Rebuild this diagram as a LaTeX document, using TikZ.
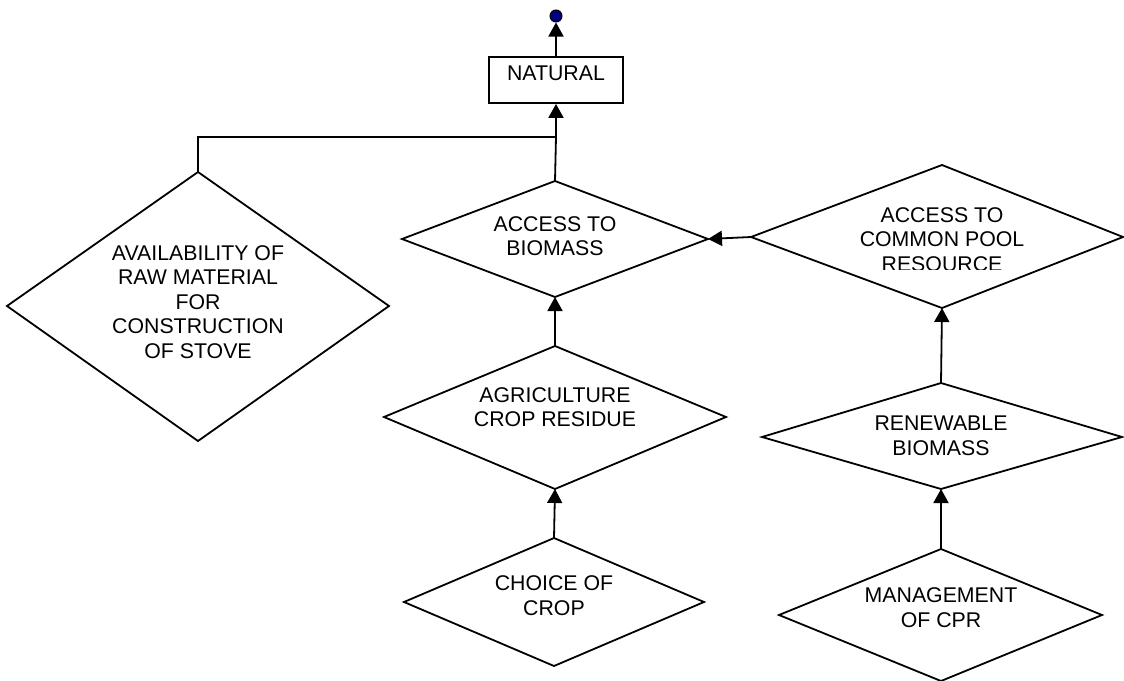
\documentclass[tikz,border=0pt]{standalone}
\usepackage{fontspec}
\setmainfont{Liberation Sans}
\usetikzlibrary{arrows.meta}
\tikzset{
  lbl/.style={align=center, inner sep=0pt, font=\fontsize{21.3}{24.6}\selectfont},
  shapeline/.style={line width=1.8pt, line join=miter},
  conn/.style={line width=1.8pt, -{Triangle[width=15pt,length=14pt]}},
  plain/.style={line width=1.8pt}
}
\begin{document}
\begin{tikzpicture}[x=1pt,y=-1pt]
\useasboundingbox (0,0) rectangle (1124,680);
% top dot
\node (dot) [circle, draw, line width=1pt, fill={rgb,255:red,0;green,0;blue,128}, minimum size=12pt, inner sep=0pt] at (556,16) {};
% NATURAL box
\node (nat) [draw, line width=1.8pt, minimum width=134pt, minimum height=46pt, inner sep=0pt] at (556,80) {};
\node (natt) [lbl] at (556,73.5) {NATURAL};
% diamonds vertices
\coordinate (av-t) at (198,172); \coordinate (av-l) at (7,306); \coordinate (av-r) at (389,306); \coordinate (av-b) at (198,441);
\coordinate (ab-t) at (555,181); \coordinate (ab-l) at (402,239); \coordinate (ab-r) at (708,239); \coordinate (ab-b) at (555,297);
\coordinate (ag-t) at (555,346); \coordinate (ag-l) at (384,417); \coordinate (ag-r) at (726,417); \coordinate (ag-b) at (555,489);
\coordinate (cc-t) at (554,538); \coordinate (cc-l) at (404,602); \coordinate (cc-r) at (704,602); \coordinate (cc-b) at (554,666);
\coordinate (cp-t) at (942,165); \coordinate (cp-l) at (751,237); \coordinate (cp-r) at (1123,237); \coordinate (cp-b) at (942,308);
\coordinate (rb-t) at (941,383); \coordinate (rb-l) at (762,437); \coordinate (rb-r) at (1122,437); \coordinate (rb-b) at (941,489);
\coordinate (mg-t) at (941,549); \coordinate (mg-l) at (779,615); \coordinate (mg-r) at (1102,615); \coordinate (mg-b) at (941,681);
\foreach \d in {av,ab,ag,cc,cp,rb,mg}{
  \draw[shapeline] (\d-t) -- (\d-r) -- (\d-b) -- (\d-l) -- cycle;
}
% labels
\node (avt) [lbl] at (198,302) {AVAILABILITY OF\\RAW MATERIAL\\FOR\\CONSTRUCTION\\OF STOVE};
\node (abt) [lbl] at (555,236) {ACCESS TO\\BIOMASS};
\node (agt) [lbl] at (555,407) {AGRICULTURE\\CROP RESIDUE};
\node (cct) [lbl] at (554,595.5) {CHOICE OF\\CROP};
\begin{scope}
\clip (700,150) rectangle (1124,269);
\node (cpt) [lbl] at (942,239.3) {ACCESS TO\\COMMON POOL\\RESOURCE};
\end{scope}
\node (rbt) [lbl] at (941,436) {RENEWABLE\\BIOMASS};
\node (mgt) [lbl] at (941,607.5) {MANAGEMENT\\OF CPR};
% connectors
\coordinate (j) at (556,137);
\coordinate (jl) at (198,137);
\draw[conn] (nat.north) -- (dot.south);
\draw[conn] (j) -- (nat.south);
\draw[plain] (ab-t) -- (j);
\draw[plain] (av-t) -- (jl) -- (j);
\draw[conn] (ag-t) -- (ab-b);
\draw[conn] (cc-t) -- (ag-b);
\draw[conn] (cp-l) -- (ab-r);
\draw[conn] (rb-t) -- (cp-b);
\draw[conn] (mg-t) -- (rb-b);
\end{tikzpicture}
\end{document}
